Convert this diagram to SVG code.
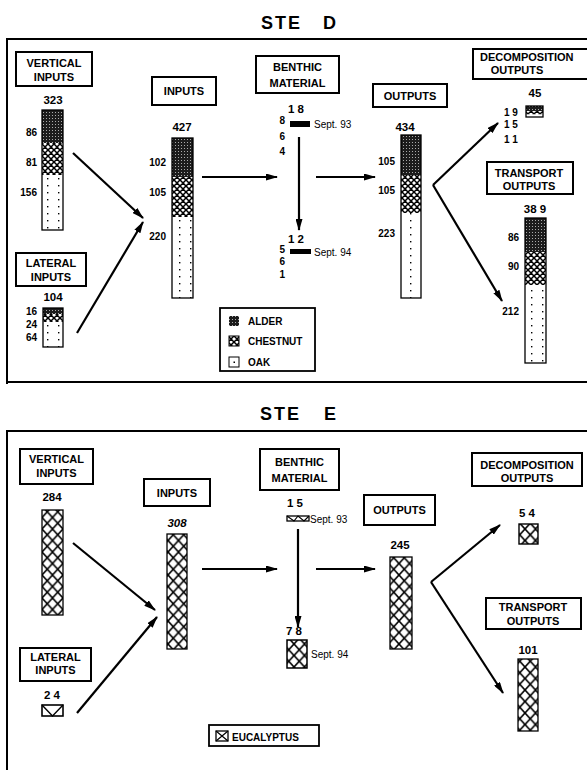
<svg xmlns="http://www.w3.org/2000/svg" width="587" height="770" viewBox="0 0 587 770">
<style>
text{font-family:"Liberation Sans",Arial,sans-serif;fill:#000}
.lbl{font-size:11px;font-weight:bold;text-anchor:middle}
.tot{font-size:11.5px;font-weight:bold;text-anchor:middle}
.side{font-size:10px;font-weight:bold;text-anchor:end}
.sept{font-size:10px}
.leg{font-size:10px;font-weight:bold}
.title{font-size:18px;font-weight:bold;letter-spacing:2px}
.box{fill:#fff;stroke:#000;stroke-width:2}
.bar{fill:none;stroke:#000;stroke-width:1.3}
.frame{stroke:#000;stroke-width:2;fill:none}
.con{stroke:#000;stroke-width:2.2;fill:none;marker-end:url(#ah)}
</style>
<defs>
<pattern id="alder" patternUnits="userSpaceOnUse" width="3" height="3"><rect width="3" height="3" fill="#1c1c1c"/><rect x="1" y="1" width="1" height="1" fill="#aaa"/></pattern>
<pattern id="chestnut" patternUnits="userSpaceOnUse" width="6" height="6"><rect width="6" height="6" fill="#fff"/><path d="M0,0 L6,6 M6,0 L0,6 M-3,3 L3,9 M3,-3 L9,3 M3,9 L9,3 M-3,3 L3,-3" stroke="#000" stroke-width="1.5"/></pattern>
<pattern id="oak" patternUnits="userSpaceOnUse" width="11" height="7"><rect width="11" height="7" fill="#fff"/><rect x="3" y="3" width="1.4" height="1.4" fill="#000"/></pattern>
<pattern id="euc" patternUnits="userSpaceOnUse" width="10.5" height="11.5"><rect width="10.5" height="11.5" fill="#fff"/><path d="M0,0 L10.5,11.5 M10.5,0 L0,11.5" stroke="#000" stroke-width="1.6"/></pattern>
<marker id="ah" viewBox="0 0 12 7" refX="11" refY="3.5" markerWidth="12" markerHeight="7" markerUnits="userSpaceOnUse" orient="auto"><path d="M0,0 L12,3.5 L0,7 z" fill="#000"/></marker>
</defs>

<!-- ===== SITE D ===== -->
<g id="titleD"><text class="title" x="261" y="29">STE</text><text class="title" x="323" y="29">D</text></g>
<g id="frameD"><path class="frame" d="M587,39 H7 V384 M7,382 H587"/></g>

<g id="vertical-inputs-D">
<rect class="box" x="16" y="52" width="76" height="34"/>
<text class="lbl" x="54" y="67">VERTICAL</text><text class="lbl" x="54" y="81">INPUTS</text>
<text class="tot" x="53" y="104" font-weight="normal">323</text>
<rect x="42" y="110" width="21" height="33" fill="url(#alder)"/>
<rect x="42" y="143" width="21" height="32" fill="url(#chestnut)"/>
<rect x="42" y="175" width="21" height="55" fill="url(#oak)"/>
<rect class="bar" x="42" y="110" width="21" height="120"/>
<text class="side" x="37" y="136">86</text><text class="side" x="37" y="166">81</text><text class="side" x="37" y="196">156</text>
</g>

<g id="lateral-inputs-D">
<rect class="box" x="16" y="253" width="70" height="33"/>
<text class="lbl" x="51" y="267">LATERAL</text><text class="lbl" x="51" y="281">INPUTS</text>
<text class="tot" x="53" y="301">104</text>
<rect x="43" y="308" width="20" height="6" fill="url(#alder)"/>
<rect x="43" y="314" width="20" height="8" fill="url(#chestnut)"/>
<rect x="43" y="322" width="20" height="25" fill="url(#oak)"/>
<rect class="bar" x="43" y="308" width="20" height="39"/>
<text class="side" x="37" y="315">16</text><text class="side" x="37" y="328">24</text><text class="side" x="37" y="341">64</text>
</g>

<g id="inputs-D">
<rect class="box" x="152" y="77" width="64" height="28"/>
<text class="lbl" x="184" y="95">INPUTS</text>
<text class="tot" x="182" y="131">427</text>
<rect x="172" y="138" width="21" height="39" fill="url(#alder)"/>
<rect x="172" y="177" width="21" height="40" fill="url(#chestnut)"/>
<rect x="172" y="217" width="21" height="81" fill="url(#oak)"/>
<rect class="bar" x="172" y="138" width="21" height="160"/>
<text class="side" x="166" y="166">102</text><text class="side" x="166" y="196">105</text><text class="side" x="166" y="240">220</text>
</g>

<g id="benthic-D">
<rect class="box" x="256" y="56" width="83" height="37"/>
<text class="lbl" x="297.5" y="71">BENTHIC</text><text class="lbl" x="297.5" y="87">MATERIAL</text>
<text class="tot" x="296" y="113">1 8</text>
<rect x="290" y="121" width="20" height="6" fill="#000"/>
<text class="sept" x="314" y="128">Sept. 93</text>
<text class="side" x="285" y="124">8</text><text class="side" x="285" y="140">6</text><text class="side" x="285" y="155">4</text>
<text class="tot" x="296" y="243">1 2</text>
<rect x="290" y="249" width="21" height="5" fill="#000"/>
<text class="sept" x="314" y="256">Sept. 94</text>
<text class="side" x="285" y="253">5</text><text class="side" x="285" y="265">6</text><text class="side" x="285" y="278">1</text>
</g>

<g id="legend-D">
<rect x="220" y="308" width="95" height="63" fill="#fff" stroke="#000" stroke-width="1.8"/>
<rect x="229" y="316" width="10" height="10" fill="url(#alder)"/>
<rect x="229" y="336" width="10" height="10" fill="url(#chestnut)" stroke="#000" stroke-width="1"/>
<rect x="229" y="357" width="10" height="10" fill="#fff" stroke="#000" stroke-width="1"/><rect x="233.5" y="361.5" width="1.5" height="1.5" fill="#000"/>
<text class="leg" x="248" y="325">ALDER</text><text class="leg" x="248" y="345">CHESTNUT</text><text class="leg" x="248" y="366">OAK</text>
</g>

<g id="outputs-D">
<rect class="box" x="373" y="84" width="74" height="23"/>
<text class="lbl" x="410" y="100">OUTPUTS</text>
<text class="tot" x="405" y="131">434</text>
<rect x="401" y="135" width="20" height="40" fill="url(#alder)"/>
<rect x="401" y="175" width="20" height="38" fill="url(#chestnut)"/>
<rect x="401" y="213" width="20" height="85" fill="url(#oak)"/>
<rect class="bar" x="401" y="135" width="20" height="163"/>
<text class="side" x="395" y="165">105</text><text class="side" x="395" y="194">105</text><text class="side" x="395" y="237">223</text>
</g>

<g id="decomposition-D">
<rect class="box" x="473" y="49" width="120" height="30"/>
<text class="lbl" x="480" y="61" style="text-anchor:start">DECOMPOSITION</text>
<text class="lbl" x="517" y="74">OUTPUTS</text>
<text class="tot" x="535" y="97">45</text>
<rect x="526" y="106" width="17" height="5" fill="url(#alder)"/>
<rect x="526" y="111" width="17" height="3.5" fill="url(#chestnut)"/>
<rect x="526" y="114.5" width="17" height="2.5" fill="#fff"/>
<rect class="bar" x="526" y="106" width="17" height="11"/>
<text class="side" x="504" y="116" style="text-anchor:start">1 9</text>
<text class="side" x="504" y="128" style="text-anchor:start">1 5</text>
<text class="side" x="504" y="143" style="text-anchor:start">1 1</text>
</g>

<g id="transport-D">
<rect class="box" x="487" y="162" width="86" height="32"/>
<text class="lbl" x="529" y="177">TRANSPORT</text><text class="lbl" x="529" y="190">OUTPUTS</text>
<text class="tot" x="535" y="213">38 9</text>
<rect x="525" y="218" width="21" height="34" fill="url(#alder)"/>
<rect x="525" y="252" width="21" height="33" fill="url(#chestnut)"/>
<rect x="525" y="285" width="21" height="78" fill="url(#oak)"/>
<rect class="bar" x="525" y="218" width="21" height="145"/>
<text class="side" x="519" y="241">86</text><text class="side" x="519" y="270">90</text><text class="side" x="519" y="315">212</text>
</g>

<!-- ===== SITE E ===== -->
<g id="titleE"><text class="title" x="260" y="420">STE</text><text class="title" x="324" y="420">E</text></g>
<g id="frameE"><path class="frame" d="M587,431 H7 V770"/></g>

<g id="vertical-inputs-E">
<rect class="box" x="20" y="449" width="73" height="35"/>
<text class="lbl" x="56.5" y="463">VERTICAL</text><text class="lbl" x="56.5" y="477">INPUTS</text>
<text class="tot" x="52" y="501">284</text>
<rect x="42" y="510" width="21" height="105" fill="url(#euc)" stroke="#000" stroke-width="1.3"/>
</g>

<g id="lateral-inputs-E">
<rect class="box" x="20" y="648" width="71" height="33"/>
<text class="lbl" x="55.5" y="661">LATERAL</text><text class="lbl" x="55.5" y="674">INPUTS</text>
<text class="tot" x="52" y="699">2 4</text>
<rect x="42" y="705" width="21" height="11" fill="#fff" stroke="#000" stroke-width="1.6"/>
<path d="M42,705 L52.5,716 L63,705" stroke="#000" stroke-width="1.4" fill="none"/>
</g>

<g id="inputs-E">
<rect class="box" x="144" y="479" width="66" height="27"/>
<text class="lbl" x="177" y="497">INPUTS</text>
<text class="tot" x="177" y="527" font-style="italic">308</text>
<rect x="167" y="534" width="20" height="115" fill="url(#euc)" stroke="#000" stroke-width="1.3"/>
</g>

<g id="benthic-E">
<rect class="box" x="260" y="449" width="79" height="41"/>
<text class="lbl" x="299.5" y="466">BENTHIC</text><text class="lbl" x="299.5" y="482">MATERIAL</text>
<text class="tot" x="295" y="507">1 5</text>
<rect x="287" y="516" width="22" height="5" fill="#fff" stroke="#000" stroke-width="1.3"/>
<path d="M287,516 L294,521 L298,516 L304,521 L309,516" stroke="#000" stroke-width="1.2" fill="none"/>
<text class="sept" x="310" y="523">Sept. 93</text>
<text class="tot" x="294" y="635">7 8</text>
<rect x="287" y="640" width="20" height="28" fill="url(#euc)" stroke="#000" stroke-width="1.5"/>
<text class="sept" x="311" y="658">Sept. 94</text>
</g>

<g id="legend-E">
<rect x="209" y="725" width="110" height="21" fill="#fff" stroke="#000" stroke-width="1.8"/>
<rect x="216" y="731" width="12" height="10" fill="#fff" stroke="#000" stroke-width="1.3"/>
<path d="M216,731 L228,741 M228,731 L216,741" stroke="#000" stroke-width="1.2"/>
<text class="leg" x="232" y="741">EUCALYPTUS</text>
</g>

<g id="outputs-E">
<rect class="box" x="364" y="495" width="71" height="30"/>
<text class="lbl" x="399.5" y="514">OUTPUTS</text>
<text class="tot" x="400" y="549">245</text>
<rect x="390" y="557" width="22" height="92" fill="url(#euc)" stroke="#000" stroke-width="1.3"/>
</g>

<g id="decomposition-E">
<rect class="box" x="472" y="453" width="110" height="33"/>
<text class="lbl" x="527" y="469">DECOMPOSITION</text><text class="lbl" x="527" y="482">OUTPUTS</text>
<text class="tot" x="527" y="517">5 4</text>
<rect x="519" y="524" width="19" height="20" fill="url(#euc)" stroke="#000" stroke-width="1.4"/>
</g>

<g id="transport-E">
<rect class="box" x="486" y="598" width="95" height="31"/>
<text class="lbl" x="533" y="611">TRANSPORT</text><text class="lbl" x="533" y="625">OUTPUTS</text>
<text class="tot" x="528" y="654">101</text>
<rect x="518" y="659" width="20" height="72" fill="url(#euc)" stroke="#000" stroke-width="1.3"/>
</g>

<g id="connectors">
<path class="con" d="M73,153 L143,218"/>
<path class="con" d="M77,333 L143,222"/>
<path class="con" d="M202,177 L277,177"/>
<path class="con" d="M299,137 L299,230"/>
<path class="con" d="M316,177 L375,177"/>
<path class="con" d="M433,185 L498,123"/>
<path class="con" d="M433,185 L502,301"/>
<path class="con" d="M73,543 L155,610"/>
<path class="con" d="M77,713 L157,617"/>
<path class="con" d="M202,569 L277,569"/>
<path class="con" d="M298,529 L298,627"/>
<path class="con" d="M316,569 L375,569"/>
<path class="con" d="M431,582 L500,525"/>
<path class="con" d="M431,582 L503,693"/>
</g>
</svg>
